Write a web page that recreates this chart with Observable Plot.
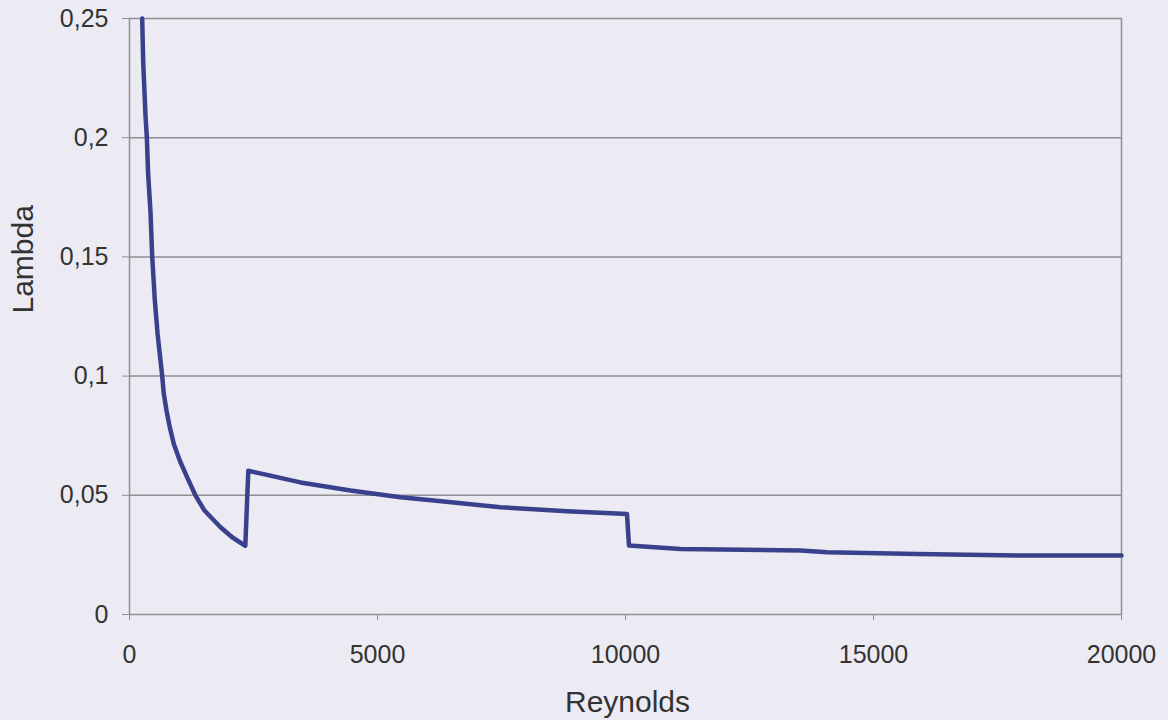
<!DOCTYPE html>
<html>
<head>
<meta charset="utf-8">
<script src="https://cdn.jsdelivr.net/npm/d3@7"></script>
<script src="https://cdn.jsdelivr.net/npm/@observablehq/plot@0.6"></script>
<style>
  html, body { margin: 0; padding: 0; background: #ecebf3; }
  #chart { width: 1168px; height: 720px; }
</style>
</head>
<body>
<div id="chart"></div>
<script>
// Reynolds number (x) and friction factor Lambda (y)
const reynolds = [256, 276, 323, 350, 375, 423, 458, 510, 565, 625, 659, 692, 746, 813, 894, 1015, 1163, 1331, 1512, 1835, 2070, 2335,
                  2395, 3448, 4456, 5464, 6135, 7480, 8825, 10030,
                  10070, 11109, 13528, 14067, 15880, 18030, 20000];
const lambda = [0.250, 0.232, 0.209, 0.200, 0.185, 0.169, 0.150, 0.132, 0.118, 0.1065, 0.100, 0.0925, 0.0855, 0.0785, 0.0715, 0.0645, 0.0575, 0.0499, 0.0436, 0.0366, 0.0324, 0.0288,
                0.0603, 0.0554, 0.0520, 0.0492, 0.0478, 0.0450, 0.0433, 0.0422,
                0.0289, 0.0275, 0.0268, 0.0261, 0.0254, 0.0247, 0.0247];

const xTicks = [0, 5000, 10000, 15000, 20000];
const yTicks = [0, 0.05, 0.1, 0.15, 0.2, 0.25];
const xTitle = "Reynolds";
const yTitle = "Lambda";

const gridColor = "#8e8e94";
const textColor = "#333333";
const lineColor = "#39418c";

const chart = Plot.plot({
  width: 1168,
  height: 720,
  marginLeft: 129,
  marginRight: 47,
  marginTop: 18,
  marginBottom: 106,
  style: { background: "#ecebf3", fontFamily: "'Liberation Sans', Arial, sans-serif" },
  x: { domain: [0, 20000] },
  y: { domain: [0, 0.25] },
  marks: [
    Plot.ruleY(yTicks, { stroke: gridColor, strokeWidth: 1.5 }),
    Plot.ruleX([0, 20000], { stroke: gridColor, strokeWidth: 1.5 }),
    Plot.axisY({
      ticks: yTicks,
      tickFormat: d => String(d).replace(".", ","),
      tickSize: 7,
      tickPadding: 14,
      fontSize: 25,
      stroke: gridColor,
      fill: textColor,
      label: null
    }),
    Plot.axisX({
      ticks: xTicks,
      tickFormat: d => String(d),
      tickSize: 6,
      tickPadding: 25,
      fontSize: 25,
      stroke: gridColor,
      fill: textColor,
      label: null
    }),
    Plot.line({ length: reynolds.length }, {
      x: reynolds,
      y: lambda,
      stroke: lineColor,
      strokeWidth: 4.5,
      strokeLinejoin: "round",
      strokeLinecap: "round"
    }),
    Plot.text([xTitle], {
      text: d => d,
      frameAnchor: "bottom",
      lineAnchor: "middle",
      dy: 88,
      dx: 2,
      fontSize: 30,
      fill: textColor
    }),
    Plot.text([yTitle], {
      text: d => d,
      frameAnchor: "left",
      lineAnchor: "middle",
      rotate: -90,
      dx: -106,
      dy: -3,
      fontSize: 30,
      fill: textColor
    })
  ]
});

document.getElementById("chart").appendChild(chart);
</script>
</body>
</html>
